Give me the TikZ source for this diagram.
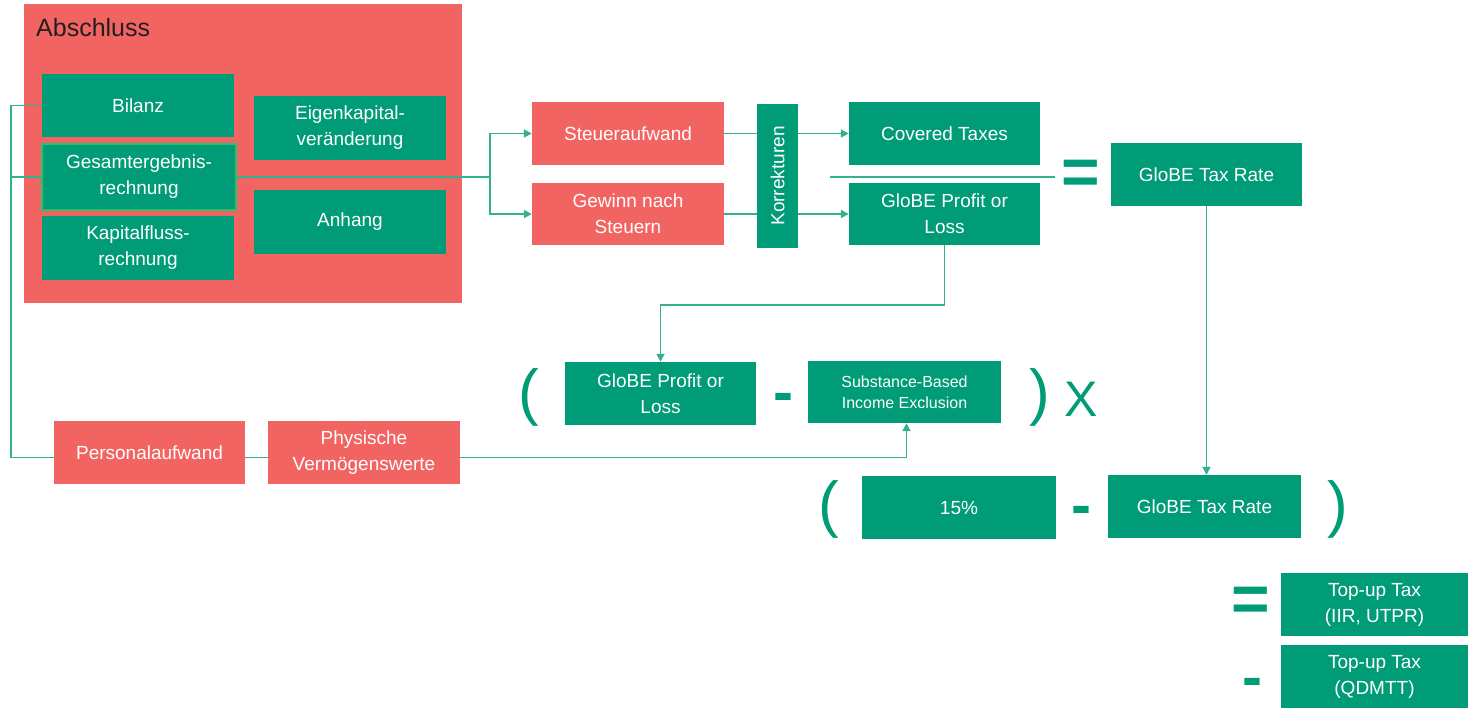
\documentclass[tikz,border=0pt]{standalone}
\usepackage{fontspec}
\setmainfont{Liberation Sans}
\usetikzlibrary{arrows.meta}
\definecolor{kgreen}{HTML}{009B77}
\definecolor{kred}{HTML}{F26461}
\definecolor{kline}{HTML}{35B08F}
\definecolor{kdark}{HTML}{231F20}
\tikzset{
  gbox/.style={fill=kgreen, text=white, inner sep=0pt, align=center, font=\fontsize{19}{26}\selectfont},
  rbox/.style={fill=kred, text=white, inner sep=0pt, align=center, font=\fontsize{19}{26}\selectfont},
  conn/.style={draw=kline, line width=1.9pt},
  arr/.style={conn, -{Triangle[length=8pt,width=8pt]}},
  sym/.style={text=kgreen, inner sep=0pt, font=\fontsize{62}{62}\selectfont},
  bsym/.style={text=kgreen, inner sep=0pt, font=\bfseries\fontsize{66}{66}\selectfont},
  dsym/.style={text=kgreen, inner sep=0pt, font=\bfseries\fontsize{60}{60}\selectfont},
}
\begin{document}
\begin{tikzpicture}[x=1pt,y=-1pt]
\useasboundingbox (0,0) rectangle (1468,710);
% Abschluss
\node[fill=kred, minimum width=438pt, minimum height=299pt, inner sep=0pt] (abs) at (243,153.5) {};
\node[anchor=west, text=kdark, inner sep=0pt, font=\fontsize{25}{30}\selectfont] (abstitle) at (36,28) {Abschluss};
\node[gbox, minimum width=192pt, minimum height=63pt] (bilanz) at (138,105.5) {Bilanz};
\node[gbox, minimum width=192pt, minimum height=64pt] (eigen) at (350,128) {Eigenkapital-\\veränderung};
\node[gbox, draw=kline!80!green, line width=1.2pt, minimum width=194pt, minimum height=66pt] (gesamt) at (139,177) {Gesamtergebnis-\\rechnung};
\node[gbox, minimum width=192pt, minimum height=64pt] (anhang) at (350,222) {Anhang};
\node[gbox, minimum width=192pt, minimum height=64pt] (kapital) at (138,248) {Kapitalfluss-\\rechnung};
% middle row
\node[rbox, minimum width=192pt, minimum height=63pt] (steuer) at (628,133.5) {Steueraufwand};
\node[rbox, minimum width=192pt, minimum height=62pt] (gewinn) at (628,214) {Gewinn nach\\Steuern};
\node[gbox, minimum width=41pt, minimum height=144pt] (korr) at (777.5,176) {};
\node[text=white, rotate=90, inner sep=0pt, font=\fontsize{19}{26}\selectfont] (korrtext) at (korr.center) {Korrekturen};
\node[gbox, minimum width=191pt, minimum height=63pt] (covered) at (944.5,133.5) {Covered Taxes};
\node[gbox, minimum width=191pt, minimum height=62pt] (gpl1) at (944.5,214) {GloBE Profit or\\Loss};
\draw[kline, line width=1.9pt] (830,177) -- (1055,177);
\node[bsym] (eq1) at (1081,177) {=};
\node[gbox, minimum width=191pt, minimum height=63pt] (gtr1) at (1206.5,174.5) {GloBE Tax Rate};
% second formula row
\node[sym] (lp1) at (529,397) {(};
\node[gbox, minimum width=191pt, minimum height=63pt] (gpl2) at (660.5,393.5) {GloBE Profit or\\Loss};
\node[dsym] (min1) at (783,403) {-};
\node[gbox, minimum width=193pt, minimum height=62pt, font=\fontsize{16}{21}\selectfont] (sbie) at (904.5,392) {Substance-Based\\Income Exclusion};
\node[sym] (rp1) at (1040,397) {)};
\node[sym, font=\fontsize{50}{50}\selectfont] (times) at (1081,399) {X};
\node[rbox, minimum width=191pt, minimum height=63pt] (personal) at (149.5,452.5) {Personalaufwand};
\node[rbox, minimum width=192pt, minimum height=63pt] (phys) at (364,452.5) {Physische\\Vermögenswerte};
% third row
\node[sym] (lp2) at (829,509) {(};
\node[gbox, minimum width=194pt, minimum height=63pt] (pct) at (959,507.5) {15\%};
\node[dsym] (min2) at (1081,516) {-};
\node[gbox, minimum width=193pt, minimum height=63pt] (gtr2) at (1204.5,506.5) {GloBE Tax Rate};
\node[sym] (rp2) at (1338,509) {)};
% result
\node[bsym] (eq2) at (1251,604) {=};
\node[gbox, minimum width=187pt, minimum height=63pt] (top1) at (1374.5,604.5) {Top-up Tax\\(IIR, UTPR)};
\node[dsym] (min3) at (1252,688) {-};
\node[gbox, minimum width=187pt, minimum height=63pt] (top2) at (1374.5,676.5) {Top-up Tax\\(QDMTT)};
% connectors
\coordinate (lx) at (11,0);
\coordinate (bx) at (490,0);
\draw[conn] (bilanz.west) -- (bilanz.west -| lx) |- ([yshift=-5pt]personal.west);
\draw[conn] (gesamt.west) -- (gesamt.west -| lx);
\draw[conn] (gesamt.east) -- (gesamt.east -| bx);
\draw[arr] (gesamt.east -| bx) |- (steuer.west);
\draw[arr] (gesamt.east -| bx) |- (gewinn.west);
\draw[conn] (steuer.east) -- (steuer.east -| korr.west);
\draw[arr] (steuer.east -| korr.east) -- (covered.west);
\draw[conn] (gewinn.east) -- (gewinn.east -| korr.west);
\draw[arr] (gewinn.east -| korr.east) -- (gpl1.west);
\draw[arr] (gpl1.south) -- ++(0,60) -| (gpl2.north);
\draw[arr] (gtr1.south) -- (gtr1.south |- gtr2.north);
\draw[conn] ([yshift=-5pt]personal.east) -- ([yshift=-5pt]phys.west);
\draw[arr] ([yshift=-5pt]phys.east) -| ([xshift=2pt]sbie.south);
\end{tikzpicture}
\end{document}
